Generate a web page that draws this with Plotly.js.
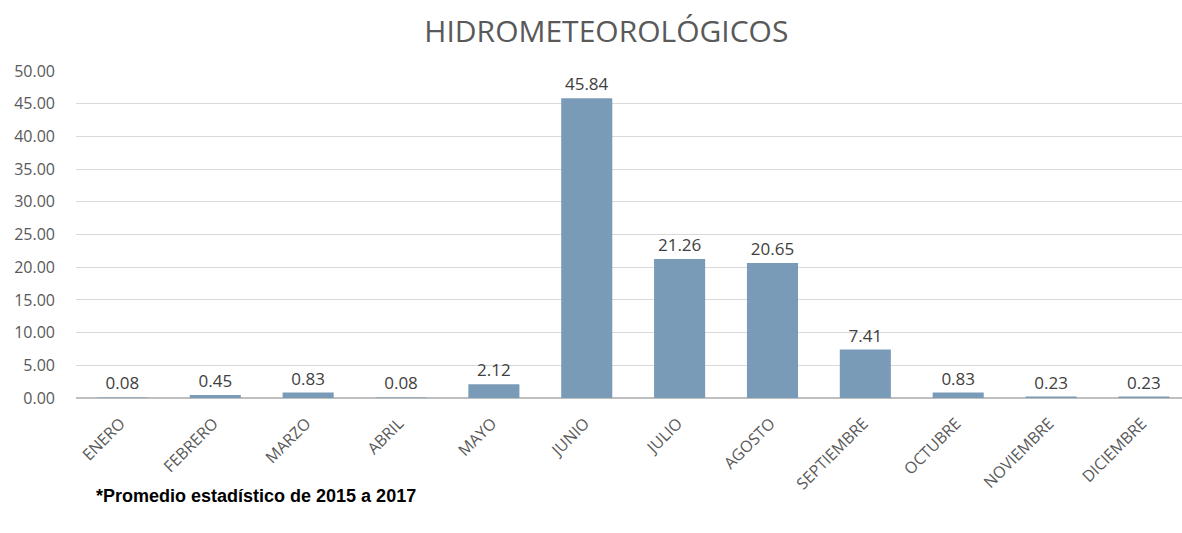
<!DOCTYPE html>
<html><head><meta charset="utf-8">
<script src="https://cdn.plot.ly/plotly-3.0.1.min.js"></script>
<style>html,body{margin:0;padding:0;background:#fff}#c{width:1182px;height:533px}</style>
</head><body><div id="c"></div>
<script>
var months = ["ENERO","FEBRERO","MARZO","ABRIL","MAYO","JUNIO","JULIO","AGOSTO","SEPTIEMBRE","OCTUBRE","NOVIEMBRE","DICIEMBRE"];
var values = [0.08,0.45,0.83,0.08,2.12,45.84,21.26,20.65,7.41,0.83,0.23,0.23];
var yTicks = [0,5,10,15,20,25,30,35,40,45,50];
var titleText = "HIDROMETEOROLÓGICOS";
var note = "*Promedio estadístico de 2015 a 2017";

var trace = {
  type: "bar", x: months, y: values,
  marker: {color: "#7a9bb8"},
  width: 0.55,
  text: values.map(function(v){return v.toFixed(2);}),
  textposition: "outside",
  textfont: {family: "Open Sans, sans-serif", size: 17, color: "#404040"},
  cliponaxis: false,
  hoverinfo: "none"
};
var layout = {
  width: 1182, height: 533,
  margin: {l: 76, r: 0, t: 71, b: 135},
  paper_bgcolor: "#fff", plot_bgcolor: "#fff",
  showlegend: false,
  title: {text: titleText, x: 0.513, xanchor: "center", y: 0.94, yanchor: "middle",
          font: {family: "Open Sans, sans-serif", size: 30, color: "#595959"}},
  xaxis: {type: "category", range: [-0.5, 11.41], tickangle: -45, showgrid: false,
          showline: false, ticks: "", fixedrange: true, ticklabelshift: -2, ticklabelstandoff: 12,
          tickfont: {family: "Open Sans, sans-serif", size: 16, color: "#595959"}},
  yaxis: {range: [0, 50], tickvals: yTicks, ticktext: yTicks.map(function(v){return v.toFixed(2);}),
          showgrid: true, gridcolor: "#d9d9d9", gridwidth: 1,
          zeroline: true, zerolinecolor: "#bfbfbf", zerolinewidth: 2,
          ticks: "", ticklabelstandoff: 20,
          tickfont: {family: "Open Sans, sans-serif", size: 16, color: "#595959"}},
  annotations: [{text: "<b>" + note + "</b>", xref: "paper", yref: "paper",
                 x: 0.016, y: -0.30, xanchor: "left", yanchor: "middle", showarrow: false,
                 font: {family: "Liberation Sans, Arial, sans-serif", size: 18, color: "#000"}}]
};
Plotly.newPlot("c", [trace], layout, {displayModeBar: false, staticPlot: true});
</script></body></html>
